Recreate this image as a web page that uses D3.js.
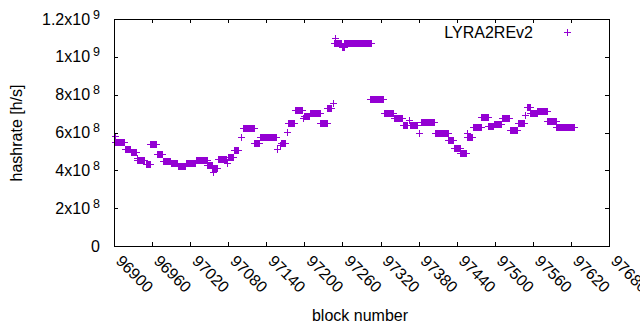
<!DOCTYPE html>
<html>
<head>
<meta charset="utf-8">
<script src="https://cdn.jsdelivr.net/npm/d3@7"></script>
<style>
  body { margin: 0; background: #fff; }
  svg { display: block; font-family: "Liberation Sans", Arial, sans-serif; }
</style>
</head>
<body>
<div id="chart"></div>
<script>
// runs of equal hashrate, one "+" per block (block start, block end, h/s)
const runStart = [96901, 96902, 96917, 96926, 96936, 96937, 96950, 96957, 96968, 96977,
  96990, 97001, 97013, 97029, 97047, 97054, 97056, 97064, 97078, 97080,
  97089, 97100, 97103, 97121, 97130, 97157, 97162, 97163, 97172, 97174,
  97185, 97198, 97199, 97209, 97225, 97236, 97245, 97248, 97246, 97259,
  97263, 97303, 97325, 97341, 97355, 97365, 97367, 97380, 97383, 97406,
  97427, 97435, 97446, 97456, 97457, 97465, 97479, 97490, 97498, 97512,
  97524, 97536, 97547, 97550, 97556, 97567, 97583, 97597];
const runEnd = [96901, 96916, 96925, 96934, 96936, 96948, 96956, 96966, 96976, 96989,
  97000, 97012, 97027, 97046, 97055, 97062, 97056, 97077, 97078, 97088,
  97096, 97100, 97120, 97129, 97156, 97157, 97162, 97170, 97172, 97184,
  97196, 97198, 97208, 97224, 97235, 97242, 97245, 97248, 97258, 97262,
  97305, 97324, 97340, 97354, 97362, 97365, 97378, 97380, 97405, 97426,
  97434, 97445, 97454, 97456, 97464, 97478, 97489, 97497, 97510, 97522,
  97535, 97546, 97547, 97555, 97566, 97582, 97596, 97625];
const runValue = [5.81e8, 5.48e8, 5.11e8, 4.98e8, 4.64e8, 4.55e8, 4.33e8, 5.38e8, 4.85e8, 4.48e8,
  4.37e8, 4.23e8, 4.37e8, 4.55e8, 4.28e8, 4.11e8, 3.93e8, 4.58e8, 4.37e8, 4.72e8,
  5.07e8, 5.78e8, 6.22e8, 5.43e8, 5.78e8, 5.11e8, 5.34e8, 5.46e8, 6.04e8, 6.52e8,
  7.17e8, 6.75e8, 6.87e8, 7.01e8, 6.52e8, 7.28e8, 7.54e8, 1.101e9, 1.071e9, 1.054e9,
  1.071e9, 7.75e8, 7.01e8, 6.75e8, 6.40e8, 6.66e8, 6.40e8, 5.99e8, 6.57e8, 5.96e8,
  5.60e8, 5.20e8, 4.90e8, 5.96e8, 5.78e8, 6.31e8, 6.80e8, 6.36e8, 6.45e8, 6.75e8,
  6.13e8, 6.49e8, 6.92e8, 7.33e8, 7.05e8, 7.12e8, 6.62e8, 6.31e8];

const xTicks = [96900, 96960, 97020, 97080, 97140, 97200, 97260, 97320, 97380, 97440, 97500, 97560, 97620, 97680];
const yTicks = [0, 2e8, 4e8, 6e8, 8e8, 1e9, 1.2e9];
const yTickMant = ['0', '2x10', '4x10', '6x10', '8x10', '1x10', '1.2x10'];
const yTickExp = ['', '8', '8', '8', '8', '9', '9'];

const seriesName = 'LYRA2REv2';
const color = '#9400d3';

const width = 640, height = 330;
const plotLeft = 114, plotRight = 609, plotTop = 19, plotBottom = 246;

const svg = d3.select('#chart').append('svg')
  .attr('width', width)
  .attr('height', height);

const x = d3.scaleLinear().domain([96900, 97680]).range([plotLeft, plotRight]);
const y = d3.scaleLinear().domain([0, 1.2e9]).range([plotBottom, plotTop]);

// expand each run into one point per block
const points = [];
runStart.forEach((s, i) => {
  for (let b = s; b <= runEnd[i]; b++) points.push({ block: b, value: runValue[i] });
});

const cross = (cx, cy, r) => `M${cx - r},${cy}H${cx + r}M${cx},${cy - r}V${cy + r}`;

// points
svg.append('g')
  .selectAll('path')
  .data(points)
  .enter()
  .append('path')
  .attr('d', d => cross(Math.round(x(d.block)) + 0.5, Math.round(y(d.value)) + 0.5, 3.5))
  .attr('stroke', color)
  .attr('stroke-width', 1)
  .attr('fill', 'none')
  .attr('shape-rendering', 'crispEdges');

// ticks on all four sides, pointing inward
const tick = 4;
const ticks = svg.append('g')
  .attr('stroke', '#000')
  .attr('stroke-width', 1)
  .attr('shape-rendering', 'crispEdges');

xTicks.forEach(t => {
  const px = Math.round(x(t)) + 0.5;
  ticks.append('line').attr('x1', px).attr('x2', px).attr('y1', plotBottom).attr('y2', plotBottom - tick);
  ticks.append('line').attr('x1', px).attr('x2', px).attr('y1', plotTop).attr('y2', plotTop + tick);
});
yTicks.forEach(t => {
  const py = Math.round(y(t)) + 0.5;
  ticks.append('line').attr('x1', plotLeft).attr('x2', plotLeft + tick).attr('y1', py).attr('y2', py);
  ticks.append('line').attr('x1', plotRight).attr('x2', plotRight - tick).attr('y1', py).attr('y2', py);
});

// frame
svg.append('rect')
  .attr('x', plotLeft + 0.5)
  .attr('y', plotTop + 0.5)
  .attr('width', plotRight - plotLeft)
  .attr('height', plotBottom - plotTop)
  .attr('fill', 'none')
  .attr('stroke', '#000')
  .attr('stroke-width', 1)
  .attr('shape-rendering', 'crispEdges');

// y tick labels
yTicks.forEach((t, i) => {
  const label = svg.append('text')
    .attr('x', 100)
    .attr('y', y(t) + 5.5)
    .attr('text-anchor', 'end')
    .attr('font-size', '16px')
    .attr('fill', '#000');
  label.append('tspan').text(yTickMant[i]);
  if (yTickExp[i]) {
    label.append('tspan')
      .attr('dx', 3)
      .attr('dy', -6)
      .attr('font-size', '12.5px')
      .text(yTickExp[i]);
  }
});

// x tick labels, rotated (the last one runs off the edge, as in gnuplot)
xTicks.forEach(t => {
  svg.append('text')
    .attr('transform', `translate(${x(t) + 1},262) rotate(45)`)
    .attr('font-size', '16px')
    .attr('fill', '#000')
    .text(t);
});

// axis titles
svg.append('text')
  .attr('transform', 'translate(22,133) rotate(-90)')
  .attr('text-anchor', 'middle')
  .attr('font-size', '16px')
  .attr('fill', '#000')
  .text('hashrate [h/s]');

svg.append('text')
  .attr('x', 360)
  .attr('y', 321)
  .attr('text-anchor', 'middle')
  .attr('font-size', '16px')
  .attr('fill', '#000')
  .text('block number');

// legend
svg.append('text')
  .attr('x', 533)
  .attr('y', 37.5)
  .attr('text-anchor', 'end')
  .attr('font-size', '16px')
  .attr('fill', '#000')
  .text(seriesName);

svg.append('path')
  .attr('d', cross(567.5, 32.5, 3.5))
  .attr('stroke', color)
  .attr('stroke-width', 1)
  .attr('fill', 'none')
  .attr('shape-rendering', 'crispEdges');
</script>
</body>
</html>
